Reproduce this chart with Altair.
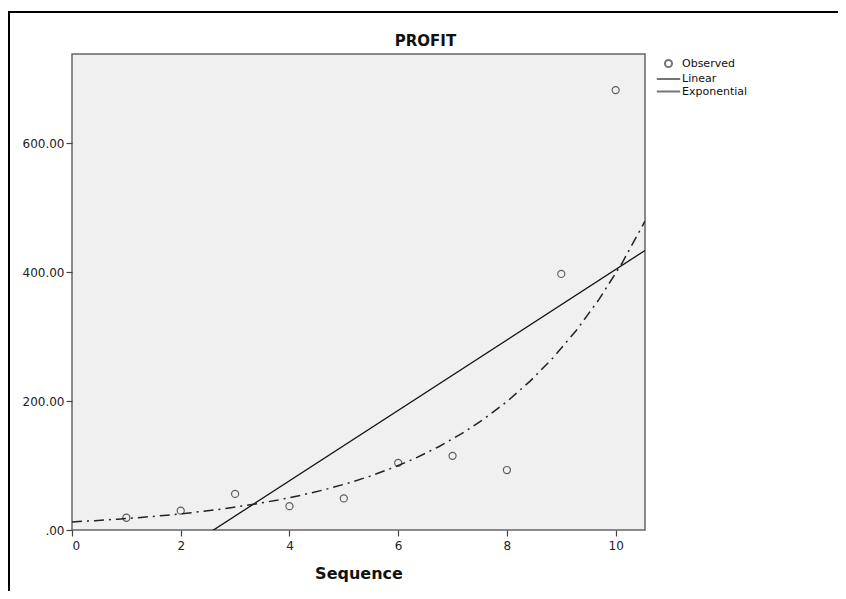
import altair as alt
import pandas as pd

# ---- data ----
seq = [1, 2, 3, 4, 5, 6, 7, 8, 9, 10]
profit = [19, 30, 56, 37, 49, 104, 115, 93, 397, 682]
series_names = ["Observed", "Linear", "Exponential"]
x_ticks = [0, 2, 4, 6, 8, 10]
y_ticks = [0, 200, 400, 600]
x_domain = [0, 10.54]
y_domain = [0, 738]

df = pd.DataFrame({"seq": seq, "profit": profit, "series": ["Observed"] * len(seq)})

FONT = "DejaVu Sans"

x_enc = alt.X(
    "seq:Q",
    scale=alt.Scale(domain=x_domain, nice=False, zero=False),
    axis=alt.Axis(
        values=x_ticks,
        title="Sequence",
        titleFont=FONT,
        titleFontSize=16,
        titleFontWeight="bold",
        titleColor="#111111",
        titlePadding=14,
        labelPadding=4,
        format="d",
    ),
)
y_enc = alt.Y(
    "profit:Q",
    scale=alt.Scale(domain=y_domain, nice=False),
    axis=alt.Axis(
        values=y_ticks,
        title=None,
        labelPadding=2,
        labelExpr="datum.value == 0 ? '.00' : format(datum.value, '.2f')",
    ),
)

base = alt.Chart(df)

frame = alt.Chart(pd.DataFrame({"k": [0]})).mark_rect(
    fillOpacity=0, stroke="black", strokeWidth=2
).encode(
    x=alt.value(-63), x2=alt.value(1200), y=alt.value(-42), y2=alt.value(1200)
)

points = base.mark_point(
    filled=False, color="#222222", size=50, strokeWidth=1.2
).encode(
    x=x_enc,
    y=y_enc,
    shape=alt.Shape(
        "series:N",
        scale=alt.Scale(
            domain=series_names,
            range=["circle", "M-3.3,0L3.3,0", "M-3.3,0L3.3,0"],
        ),
        legend=alt.Legend(
            title=None,
            orient="none",
            legendX=591,
            legendY=4,
            padding=0,
            rowPadding=0.5,
            labelFont=FONT,
            labelFontSize=11,
            labelColor="#111111",
            labelOffset=8,
            symbolSize=50,
            symbolStrokeColor="#3a3a3a",
            symbolStrokeWidth=2,
            symbolFillColor="transparent",
        ),
    ),
)

linear = base.transform_regression(
    "seq", "profit", method="linear", extent=x_domain
).mark_line(color="#111111", strokeWidth=1.3, clip=True).encode(x="seq:Q", y="profit:Q")

expo = (
    base.transform_calculate(lp="log(datum.profit)")
    .transform_regression("seq", "lp", method="poly", order=1, extent=x_domain)
    .transform_calculate(profit="exp(datum.lp)")
    .mark_line(color="#222222", strokeWidth=1.5, strokeDash=[10, 5, 2, 5], clip=True)
    .encode(x="seq:Q", y="profit:Q")
)

chart = (
    alt.layer(frame, linear, expo, points)
    .properties(
        width=573,
        height=476,
        padding={"left": 64, "top": 46, "right": 193, "bottom": 61},
        autosize=alt.AutoSizeParams(type="none"),
        title=alt.TitleParams(
            "PROFIT",
            font=FONT,
            fontSize=15,
            fontWeight="bold",
            color="#111111",
            anchor="middle",
            frame="group",
            dx=67,
            offset=-38,
        ),
        background="white",
    )
    .configure_view(fill="#F0F0F0", stroke="#666666", strokeWidth=1.5)
    .configure_axis(
        domain=False,
        grid=False,
        tickColor="#444444",
        tickSize=6,
        tickWidth=1.2,
        labelColor="#222222",
        labelFont=FONT,
        labelFontSize=12,
    )
)

chart.save("out.html", embed_options={"renderer": "svg", "actions": False})
